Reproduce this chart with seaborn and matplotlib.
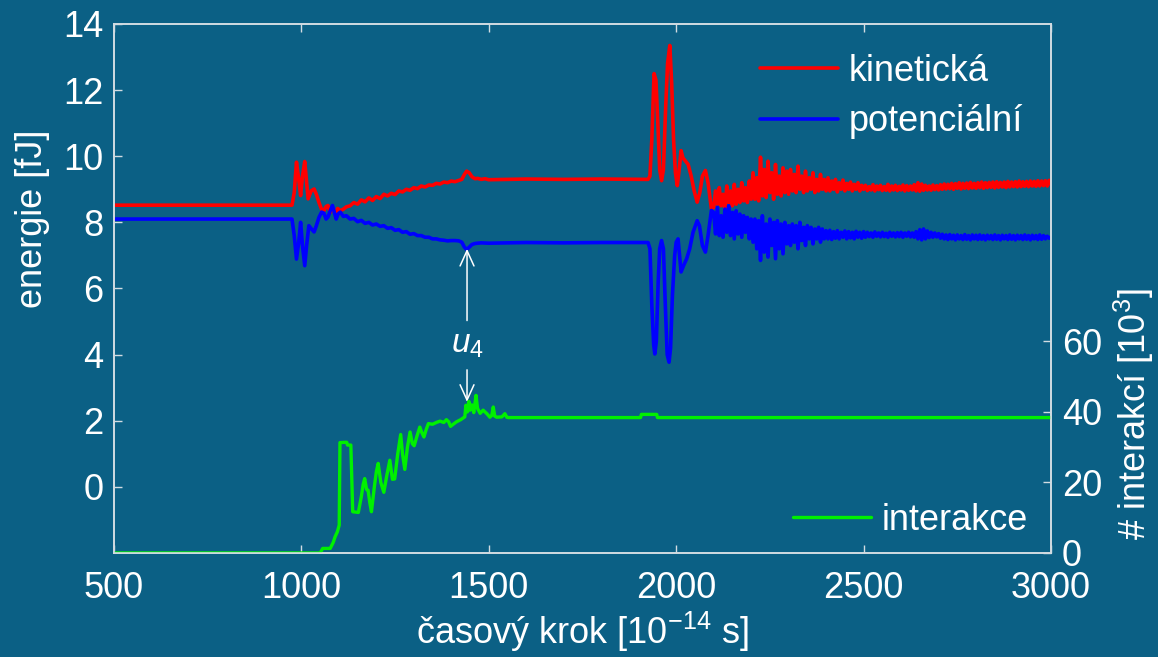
import numpy as np
import pandas as pd
import matplotlib
matplotlib.use("Agg")
import matplotlib.pyplot as plt
import seaborn as sns
from matplotlib.lines import Line2D

# ---------------------------------------------------------------- data
# Kinetic energy [fJ]: vertices of the calm part and the two excitations
kin_t = [500, 975, 981, 987, 993, 998, 1003, 1009, 1014, 1018, 1026, 1034, 1040,
         1047, 1054, 1060, 1066, 1071, 1077, 1083, 1090, 1097, 1104, 1112, 1120,
         1130, 1140, 1150, 1160, 1170, 1180, 1190, 1200, 1210, 1220, 1230, 1240,
         1250, 1260, 1270, 1280, 1290, 1300, 1310, 1320, 1330, 1340, 1350, 1360,
         1370, 1380, 1390, 1400, 1410, 1420, 1428, 1435, 1441, 1448, 1455, 1463,
         1470, 1480, 1490, 1500, 1600, 1700, 1800, 1925, 1930, 1935, 1941, 1946,
         1951, 1956, 1961, 1966, 1972, 1977, 1983, 1988, 1993, 1998, 2003, 2008,
         2013, 2018, 2027, 2032, 2040, 2048, 2056, 2063, 2070, 2078, 2085, 2094]
kin_v = [8.52, 8.52, 8.9, 9.82, 9.3, 8.81, 9.4, 9.84, 9.2, 8.71, 8.95, 9.01, 8.85,
         8.6, 8.39, 8.35, 8.48, 8.51, 8.3, 8.45, 8.28, 8.42, 8.35, 8.4, 8.47,
         8.5, 8.6, 8.55, 8.68, 8.62, 8.74, 8.66, 8.78, 8.72, 8.85, 8.8, 8.88,
         8.84, 8.95, 8.92, 9.0, 8.97, 9.05, 9.02, 9.1, 9.07, 9.13, 9.12, 9.18,
         9.16, 9.22, 9.2, 9.25, 9.23, 9.27, 9.3, 9.45, 9.55, 9.5, 9.38, 9.32,
         9.33, 9.3, 9.32, 9.29, 9.31, 9.3, 9.31, 9.3, 9.4, 10.5, 12.5, 12.3,
         11.0, 9.6, 9.26, 9.6, 11.5, 12.8, 13.35, 12.2, 10.5, 9.5, 9.11, 9.6,
         10.17, 9.95, 9.82, 9.75, 9.4, 8.95, 8.61, 8.9, 9.4, 9.57, 9.2, 8.41]
# Kinetic energy, dense samples every 5 steps from 2100 to 3000
kin_tail = [8.45, 8.95, 8.55, 9.05, 8.5, 8.85, 8.42, 9.1, 8.6, 8.95, 8.5, 9.15,
            8.55, 9.0, 8.6, 9.2, 8.65, 9.05, 8.6, 9.25, 8.7,
            9.5, 8.7, 9.35, 8.65, 9.97, 8.8, 9.6, 8.75, 9.85, 8.9, 9.5, 8.7,
            9.75, 8.85, 9.4, 8.8, 9.65, 8.9, 9.55, 8.85,
            9.6, 8.95, 9.45, 8.9, 9.7, 9.0, 9.4, 8.9, 9.55, 8.95, 9.35, 9.0,
            9.5, 8.9, 9.3, 8.95, 9.45, 9.0, 9.3, 8.95,
            9.35, 8.95, 9.25, 9.0, 9.3, 8.92, 9.2, 9.0, 9.28, 8.95, 9.18, 9.0,
            9.22, 8.95, 9.15, 9.0, 9.2, 8.95, 9.12, 9.0,
            9.12, 8.96, 9.08, 8.98, 9.14, 8.95, 9.1, 8.99, 9.12, 8.96, 9.08, 8.97,
            9.15, 8.95, 9.1, 8.98, 9.12, 8.96, 9.09, 8.98, 9.13, 8.95, 9.11, 8.97,
            9.1, 8.98, 9.14, 8.95, 9.2, 8.94, 9.16, 8.97, 9.12, 8.98, 9.1, 8.97,
            9.13, 8.99, 9.11, 8.98,
            9.14, 9.0, 9.16, 9.01, 9.15, 9.02, 9.18, 9.0, 9.17, 9.03, 9.2, 9.01,
            9.18, 9.03, 9.19, 9.02, 9.21, 9.04, 9.18, 9.03, 9.2, 9.05, 9.22, 9.03,
            9.2, 9.05, 9.21, 9.06, 9.22, 9.04, 9.23, 9.06, 9.21, 9.07, 9.22, 9.05,
            9.24, 9.07, 9.22, 9.08, 9.23, 9.07, 9.25, 9.08, 9.23, 9.09, 9.24, 9.08,
            9.25, 9.1, 9.24, 9.09, 9.26, 9.1, 9.25, 9.11, 9.26, 9.1, 9.27, 9.15]

# Potential energy [fJ]
pot_t = [500, 975, 981, 987, 993, 998, 1003, 1009, 1014, 1020, 1027, 1034, 1040,
         1047, 1054, 1060, 1066, 1071, 1077, 1083, 1088, 1093, 1098, 1104, 1112,
         1120, 1130, 1140, 1150, 1160, 1170, 1180, 1190, 1200, 1210, 1220, 1230,
         1240, 1250, 1260, 1270, 1280, 1290, 1300, 1310, 1320, 1330, 1340, 1350,
         1360, 1370, 1380, 1390, 1400, 1410, 1420, 1428, 1435, 1441, 1448, 1455,
         1463, 1470, 1480, 1500, 1600, 1700, 1800, 1925, 1930, 1935, 1940, 1943,
         1947, 1952, 1956, 1961, 1966, 1971, 1976, 1981, 1985, 1990, 1996, 2000,
         2005, 2009, 2013, 2020, 2028, 2036, 2045, 2056, 2062, 2070, 2078, 2085, 2094]
pot_v = [8.1, 8.1, 7.6, 6.89, 7.4, 8.0, 7.3, 6.69, 7.3, 7.9, 7.8, 7.71, 7.9,
         8.15, 8.31, 8.28, 8.1, 8.16, 8.35, 8.51, 8.3, 8.1, 8.25, 8.31, 8.18,
         8.2, 8.1, 8.12, 8.02, 8.06, 7.97, 8.0, 7.92, 7.95, 7.88, 7.9, 7.82,
         7.84, 7.76, 7.78, 7.7, 7.72, 7.64, 7.66, 7.6, 7.6, 7.55, 7.55, 7.5,
         7.5, 7.47, 7.46, 7.44, 7.45, 7.45, 7.44, 7.4, 7.25, 7.18, 7.25, 7.33,
         7.36, 7.37, 7.38, 7.37, 7.39, 7.38, 7.39, 7.39, 7.2, 5.5, 4.3, 4.02,
         4.4, 6.2, 7.2, 7.45, 7.2, 5.5, 4.0, 3.77, 4.2, 5.8, 7.0, 7.4,
         7.5, 7.0, 6.5, 6.7, 6.9, 7.2, 7.7, 8.05, 7.9, 7.3, 7.1, 7.6, 8.36]
# Potential energy, dense samples every 5 steps from 2100 to 3000
pot_tail = [8.3, 7.65, 8.45, 7.6, 8.2, 7.55, 8.4, 7.7, 8.5, 7.6, 8.3, 7.5,
            8.35, 7.65, 8.25, 7.55, 8.2, 7.7, 8.15, 7.5, 8.1,
            7.4, 8.1, 7.2, 8.05, 6.85, 8.2, 7.1, 7.95, 6.95, 8.1, 7.3, 8.0,
            6.9, 8.05, 7.2, 7.95, 7.05, 8.0, 7.35, 7.9,
            7.3, 7.95, 7.4, 7.9, 7.2, 8.0, 7.45, 7.85, 7.3, 7.9, 7.5, 7.85,
            7.35, 7.8, 7.5, 7.85, 7.4, 7.8, 7.5, 7.75,
            7.5, 7.76, 7.48, 7.72, 7.52, 7.75, 7.5, 7.7, 7.55, 7.74, 7.5, 7.72,
            7.53, 7.7, 7.5, 7.73, 7.55, 7.7, 7.52, 7.72,
            7.55, 7.7, 7.57, 7.68, 7.55, 7.71, 7.58, 7.68, 7.56, 7.7, 7.57, 7.67,
            7.55, 7.7, 7.58, 7.68, 7.56, 7.69, 7.57, 7.7, 7.55, 7.68, 7.58, 7.7,
            7.56, 7.68, 7.55, 7.72, 7.5, 7.78, 7.47, 7.8, 7.5, 7.74, 7.54, 7.7,
            7.55, 7.68, 7.56, 7.66,
            7.52, 7.64, 7.5, 7.62, 7.48, 7.63, 7.5, 7.61, 7.47, 7.62, 7.5, 7.6,
            7.48, 7.63, 7.49, 7.6, 7.47, 7.62, 7.5, 7.61, 7.48, 7.62, 7.49, 7.6,
            7.47, 7.61, 7.5, 7.6, 7.48, 7.62, 7.49, 7.6, 7.47, 7.61, 7.5, 7.6,
            7.48, 7.62, 7.49, 7.6, 7.47, 7.61, 7.5, 7.6, 7.48, 7.62, 7.49, 7.6,
            7.47, 7.61, 7.5, 7.6, 7.48, 7.62, 7.49, 7.6, 7.5, 7.58, 7.52, 7.55]
tail_start, tail_end = 2100, 3000

# Number of interactions [10^3]
int_t = [500, 1050, 1057, 1077, 1085, 1090, 1096, 1101, 1103, 1121, 1123, 1132,
         1137, 1152, 1160, 1165, 1169, 1174, 1178, 1183, 1187, 1195, 1200, 1205,
         1212, 1220, 1228, 1236, 1243, 1249, 1257, 1265, 1270, 1276, 1283, 1290,
         1296, 1301, 1308, 1316, 1322, 1327, 1333, 1339, 1350, 1360, 1370, 1380,
         1387, 1393, 1398, 1405, 1414, 1425, 1436, 1439, 1443, 1447, 1450, 1455,
         1460, 1466, 1470, 1477, 1485, 1495, 1503, 1508, 1512, 1516, 1521, 1535,
         1543, 1548, 1552, 1905, 1907, 1948, 1950, 3000]
int_v = [0, 0, 1.3, 1.3, 3.0, 4.6, 6.0, 7.9, 31.3, 31.4, 30.6, 30.6,
         11.7, 11.5, 16, 19.5, 21.1, 18, 17.8, 14, 11.7, 19, 23, 25.4,
         20, 17.2, 22, 26.3, 20.9, 21, 28, 33.6, 28, 23.7, 30, 34.3,
         31, 30.4, 33, 35.7, 34, 32.9, 35, 36.7, 36.5, 37, 37.4, 37,
         37.8, 37.2, 35.9, 36.5, 37.2, 37.8, 38.6, 41.9, 40, 43, 40.5, 42,
         39.8, 44.7, 41, 39.6, 40.5, 39.5, 38.5, 39, 41.4, 38.8, 38.5, 38.6,
         39.5, 38.5, 38.4, 38.4, 39.3, 39.3, 38.4, 38.4]

x_ticks = [500, 1000, 1500, 2000, 2500, 3000]
e_ticks = [0, 2, 4, 6, 8, 10, 12, 14]
n_ticks = [0, 20, 40, 60]

# ---------------------------------------------------------------- frames
kin_df = pd.DataFrame({
    "t": np.concatenate([kin_t, np.linspace(tail_start, tail_end, len(kin_tail))]),
    "E": np.concatenate([kin_v, kin_tail])})
pot_df = pd.DataFrame({
    "t": np.concatenate([pot_t, np.linspace(tail_start, tail_end, len(pot_tail))]),
    "E": np.concatenate([pot_v, pot_tail])})
int_df = pd.DataFrame({"t": int_t, "n": int_v})

# ---------------------------------------------------------------- style
sns.set_theme(style="ticks")
BG = "#0b6085"
FG = "white"
EDGE = "#d2dce2"
plt.rcParams.update({
    "font.family": ["Liberation Sans", "DejaVu Sans"],
    "mathtext.fontset": "custom",
    "mathtext.rm": "Liberation Sans",
    "mathtext.it": "Liberation Sans:italic",
    "mathtext.bf": "Liberation Sans:bold",
    "text.color": FG,
    "axes.labelcolor": FG,
    "xtick.color": EDGE,
    "ytick.color": EDGE,
    "xtick.labelcolor": FG,
    "ytick.labelcolor": FG,
})

RED, BLUE, GREEN = "#ff0000", "#0000ff", "#00f000"
LW = 2.6
FS = 26

fig = plt.figure(figsize=(11.58, 6.57), dpi=100, facecolor=BG)
ax = fig.add_axes([0.0984, 0.1583, 0.8092, 0.8052])
ax.set_facecolor(BG)

sns.lineplot(data=kin_df, x="t", y="E", ax=ax, color=RED, lw=LW,
             estimator=None, sort=False, legend=False)
sns.lineplot(data=pot_df, x="t", y="E", ax=ax, color=BLUE, lw=LW,
             estimator=None, sort=False, legend=False)

ax.set_xlim(500, 3000)
ax.set_ylim(-2, 14)
ax.set_xticks(x_ticks)
ax.set_yticks(e_ticks)
ax.tick_params(axis="x", direction="in", top=True, length=6, width=1,
               labelsize=FS, pad=13)
ax.tick_params(axis="y", direction="in", right=False, length=6, width=1,
               labelsize=FS, pad=7.5)
ax.set_xlabel(r"časový krok [10$^{-14}$ s]", fontsize=FS, labelpad=3)
ax.set_ylabel("")
ax.text(-0.0864, 0.631, "energie [fJ]", transform=ax.transAxes, fontsize=FS,
        rotation=90, ha="center", va="center", color=FG)

ax2 = ax.twinx()
sns.lineplot(data=int_df, x="t", y="n", ax=ax2, color=GREEN, lw=2.4,
             estimator=None, sort=False, legend=False)
ax2.set_ylim(0, 150)
ax2.set_yticks(n_ticks)
ax2.tick_params(axis="y", direction="in", length=6, width=1,
                labelsize=FS, pad=8)
ax2.set_ylabel("")
ax2.set_xlabel("")
ax2.text(1.0886, 0.263, r"# interakcí [10$^3$]", transform=ax2.transAxes,
         fontsize=FS, rotation=90, ha="center", va="center", color=FG)

for a in (ax, ax2):
    for s in a.spines.values():
        s.set_color(EDGE)
        s.set_linewidth(1.2)

# ---------------------------------------------------------------- legends
leg1 = ax2.legend(
    handles=[Line2D([], [], color=RED, lw=LW), Line2D([], [], color=BLUE, lw=LW)],
    labels=["kinetická", "potenciální"], loc="upper left",
    bbox_to_anchor=(0.6894, 0.943), frameon=False, fontsize=FS,
    handlelength=2.17, handletextpad=0.28, labelspacing=0.42,
    borderpad=0, borderaxespad=0)
ax2.add_artist(leg1)
ax2.legend(handles=[Line2D([], [], color=GREEN, lw=2.4)], labels=["interakce"],
           loc="upper left", bbox_to_anchor=(0.7247, 0.0947), frameon=False,
           fontsize=FS, handlelength=2.17, handletextpad=0.28,
           borderpad=0, borderaxespad=0)

# ---------------------------------------------------------------- marker u4
t_mark = 1442
arrow = dict(arrowstyle="->,head_length=0.55,head_width=0.25", color=FG,
             lw=1.1, mutation_scale=20, shrinkA=0, shrinkB=0)
ax.annotate("", xy=(t_mark, 7.2), xytext=(t_mark, 5.03), arrowprops=arrow)
ax.annotate("", xy=(t_mark, 2.57), xytext=(t_mark, 3.54), arrowprops=arrow)
ax.text(t_mark, 4.3, r"$u_4$", fontsize=24, ha="center", va="center", color=FG)

fig.savefig("out.png", dpi=100, facecolor=BG)
